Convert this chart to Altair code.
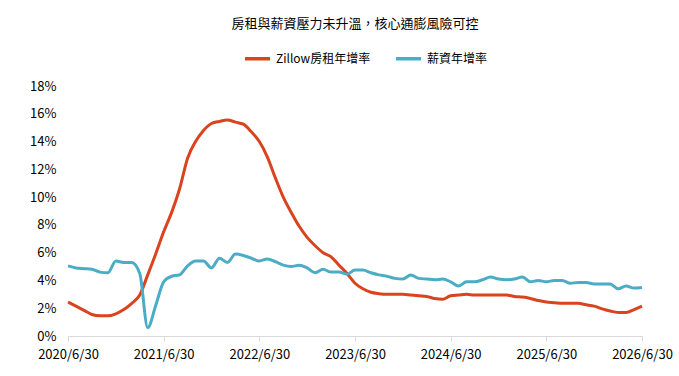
import altair as alt
import pandas as pd

# Monthly observations, 2020/6 through 2026/6 (month index 0..72)
start_year = 2020
rent_yoy = [
    2.45, 2.15, 1.85, 1.55, 1.45, 1.45, 1.6, 1.9, 2.35, 2.95,
    4.4, 5.9, 7.5, 8.9, 10.6, 12.8, 14.0, 14.8, 15.3, 15.45,
    15.55, 15.4, 15.25, 14.7, 14.0, 12.9, 11.4, 10.0, 8.9, 7.9,
    7.1, 6.5, 6.0, 5.7, 5.1, 4.5, 3.8, 3.4, 3.15, 3.05,
    3.0, 3.0, 3.0, 2.95, 2.9, 2.85, 2.7, 2.65, 2.9, 2.95,
    3.0, 2.95, 2.95, 2.95, 2.95, 2.95, 2.85, 2.8, 2.7, 2.55,
    2.45, 2.4, 2.35, 2.35, 2.35, 2.25, 2.15, 1.95, 1.8, 1.7,
    1.7, 1.9, 2.15,
]
wage_yoy = [
    5.05, 4.9, 4.85, 4.8, 4.6, 4.55, 5.4, 5.3, 5.3, 4.5,
    0.6, 2.2, 3.9, 4.3, 4.4, 5.05, 5.4, 5.4, 4.9, 5.6,
    5.3, 5.9, 5.8, 5.6, 5.4, 5.55, 5.35, 5.1, 5.0, 5.1,
    4.9, 4.55, 4.8, 4.6, 4.6, 4.45, 4.75, 4.75, 4.55, 4.4,
    4.3, 4.15, 4.1, 4.4, 4.15, 4.1, 4.05, 4.1, 3.9, 3.6,
    3.9, 3.9, 4.05, 4.25, 4.1, 4.05, 4.1, 4.25, 3.9, 4.0,
    3.9, 4.0, 4.0, 3.8, 3.85, 3.85, 3.75, 3.75, 3.75, 3.4,
    3.6, 3.45, 3.5,
]
series_names = ["Zillow房租年增率", "薪資年增率"]
series_colors = ["#D9431E", "#4BACC6"]
tick_months = [0, 12, 24, 36, 48, 60, 72]
tick_labels = ["2020/6/30", "2021/6/30", "2022/6/30", "2023/6/30",
               "2024/6/30", "2025/6/30", "2026/6/30"]
y_ticks = list(range(0, 19, 2))

rows = []
for i, v in enumerate(rent_yoy):
    rows.append({"m": i, "series": series_names[0], "value": v})
for i, v in enumerate(wage_yoy):
    rows.append({"m": i, "series": series_names[1], "value": v})
df = pd.DataFrame(rows)

label_map = "{" + ",".join(f"'{m}':'{t}'" for m, t in zip(tick_months, tick_labels)) + "}"

FONT = "Noto Sans CJK TC"

chart = (
    alt.Chart(df)
    .mark_line(strokeWidth=3, interpolate="monotone")
    .encode(
        x=alt.X(
            "m:Q",
            scale=alt.Scale(domain=[0, 72], nice=False, zero=False),
            axis=alt.Axis(
                title=None,
                values=tick_months,
                labelExpr=f"{label_map}[''+datum.value]",
                grid=False,
                domainColor="#D9D9D9",
                tickColor="#D9D9D9",
                tickSize=5,
                labelPadding=7,
                labelFontSize=13,
                labelColor="#000000",
                labelFont=FONT,
                labelFlush=False,
            ),
        ),
        y=alt.Y(
            "value:Q",
            scale=alt.Scale(domain=[0, 18], nice=False),
            axis=alt.Axis(
                title=None,
                values=y_ticks,
                labelExpr="datum.value + '%'",
                grid=False,
                domain=False,
                ticks=False,
                labelPadding=12,
                labelFontSize=13,
                labelColor="#000000",
                labelFont=FONT,
            ),
        ),
        color=alt.Color(
            "series:N",
            scale=alt.Scale(domain=series_names, range=series_colors),
            sort=series_names,
            legend=alt.Legend(
                title=None,
                orient="none",
                direction="horizontal",
                legendX=175,
                legendY=-42,
                symbolType="stroke",
                symbolSize=625,
                symbolStrokeWidth=3.5,
                labelFontSize=12,
                labelFont=FONT,
                labelColor="#000000",
                labelOffset=4,
                columnPadding=18,
            ),
        ),
    )
    .properties(
        width=574,
        height=250,
        title=alt.TitleParams(
            "房租與薪資壓力未升溫，核心通膨風險可控",
            fontSize=13,
            font=FONT,
            fontWeight="normal",
            color="#000000",
            anchor="middle",
            offset=13,
        ),
        autosize=alt.AutoSizeParams(type="none"),
        padding={"left": 68, "top": 86, "right": 37, "bottom": 40},
    )
    .configure_view(stroke=None)
)

chart.save("out.html", embed_options={"renderer": "svg", "actions": False})
